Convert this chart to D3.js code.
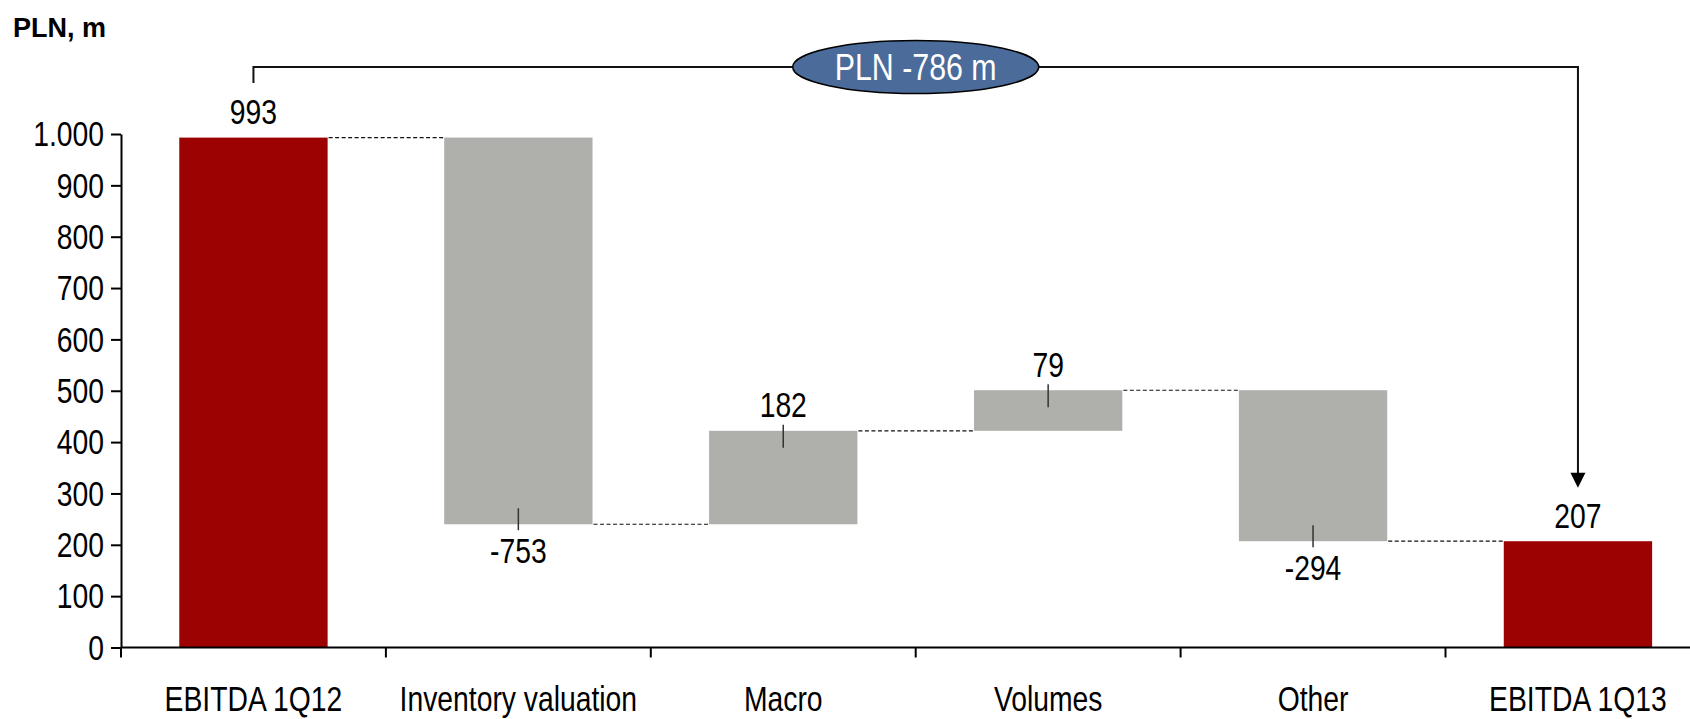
<!DOCTYPE html>
<html>
<head>
<meta charset="utf-8">
<script src="https://cdn.jsdelivr.net/npm/d3@7"></script>
<style>
  html, body { margin: 0; padding: 0; background: #fff; }
  svg { display: block; }
</style>
</head>
<body>
<svg id="chart" width="1690" height="719"></svg>
<script>
// ---- data ----
const categories = ["EBITDA 1Q12", "Inventory valuation", "Macro", "Volumes", "Other", "EBITDA 1Q13"];
const values = [993, -753, 182, 79, -294, 207];
const barTypes = ["total", "delta", "delta", "delta", "delta", "total"];
const yTicks = [0, 100, 200, 300, 400, 500, 600, 700, 800, 900, 1000];
const unitLabel = "PLN, m";
const changeLabel = "PLN -786 m";

// ---- style ----
const RED = "#9c0202", GRAY = "#afb0ab", BLUE = "#4b6b9a";

function hasFont(name) {
  const c = document.createElement("canvas").getContext("2d");
  c.font = "40px monospace";
  const a = c.measureText("EBITDA 1Q12 Inventory valuation").width;
  c.font = "40px '" + name + "', monospace";
  const b = c.measureText("EBITDA 1Q12 Inventory valuation").width;
  return a !== b;
}
const narrowOK = hasFont("Liberation Sans Narrow");
const FONT = narrowOK ? "'Liberation Sans Narrow', 'Arial Narrow', sans-serif" : "'Liberation Sans', Arial, sans-serif";
function narrowify(sel) {
  if (narrowOK) return;
  sel.each(function () {
    const len = this.getComputedTextLength();
    d3.select(this).attr("textLength", len * 0.82).attr("lengthAdjust", "spacingAndGlyphs");
  });
}

const svg = d3.select("#chart");
const fs = 34.5;

// ---- compute waterfall ----
let running = 0;
const bars = categories.map((c, i) => {
  let start, end;
  if (barTypes[i] === "total") { start = 0; end = values[i]; }
  else { start = running; end = running + values[i]; }
  running = end;
  return { cat: c, value: values[i], type: barTypes[i], start, end };
});

// ---- scales ----
const x = d3.scaleBand().domain(categories).range([121, 1710.4]).paddingInner(0.44).paddingOuter(0.22);
const y = d3.scaleLinear().domain([0, 1000]).range([647.5, 134]);
const bw = x.bandwidth();

// ---- y axis ----
const fmt = d3.formatLocale({ decimal: ",", thousands: ".", grouping: [3], currency: ["", ""] }).format(",d");
const gy = svg.append("g").attr("transform", "translate(121,0)")
  .call(d3.axisLeft(y).tickValues(yTicks).tickSize(10).tickSizeOuter(0).tickPadding(7).tickFormat(fmt));
gy.select(".domain").attr("stroke", "#000").attr("stroke-width", 2);
gy.selectAll(".tick line").attr("stroke", "#000").attr("stroke-width", 2);
gy.selectAll(".tick text").attr("font-family", FONT).attr("font-size", fs).attr("fill", "#000").attr("dy", "0.34em");
narrowify(gy.selectAll(".tick text"));

// ---- bars ----
svg.append("g").selectAll("rect").data(bars).join("rect")
  .attr("x", d => x(d.cat))
  .attr("width", bw)
  .attr("y", d => y(Math.max(d.start, d.end)))
  .attr("height", d => Math.abs(y(d.start) - y(d.end)))
  .attr("fill", d => d.type === "total" ? RED : GRAY);

// ---- connectors ----
const conn = bars.slice(0, -1).map((d, i) => ({ x1: x(d.cat) + bw, x2: x(bars[i + 1].cat), v: d.end }));
svg.append("g").selectAll("line").data(conn).join("line")
  .attr("x1", d => d.x1 + 1).attr("x2", d => d.x2)
  .attr("y1", d => y(d.v)).attr("y2", d => y(d.v))
  .attr("stroke", "#111").attr("stroke-width", 1.2).attr("stroke-dasharray", "4,2.5");

// ---- x axis ----
const gx = svg.append("g").attr("transform", "translate(0,647.5)");
gx.append("line").attr("x1", 121).attr("x2", 1690).attr("stroke", "#000").attr("stroke-width", 2);
const bounds = categories.map(c => x(c) - x.step() * x.paddingInner() / 2);
gx.selectAll(".bt").data(bounds).join("line").attr("class", "bt")
  .attr("x1", d => d).attr("x2", d => d).attr("y1", 0).attr("y2", 10)
  .attr("stroke", "#000").attr("stroke-width", 2);
const xl = gx.selectAll(".xl").data(categories).join("text").attr("class", "xl")
  .attr("x", d => x(d) + bw / 2).attr("y", 63.5)
  .attr("text-anchor", "middle").attr("font-family", FONT).attr("font-size", fs).attr("fill", "#000")
  .text(d => d);
narrowify(xl);

// ---- data labels ----
const labelBase = d => d.value >= 0 ? y(d.end) - 13.5 : y(d.end) + 39;
const dl = svg.append("g").selectAll("text").data(bars).join("text")
  .attr("x", d => x(d.cat) + bw / 2).attr("y", labelBase)
  .attr("text-anchor", "middle").attr("font-family", FONT).attr("font-size", fs).attr("fill", "#000")
  .text(d => d.value);
narrowify(dl);
svg.append("g").selectAll("line").data(bars.filter(d => d.type === "delta")).join("line")
  .attr("x1", d => x(d.cat) + bw / 2).attr("x2", d => x(d.cat) + bw / 2)
  .attr("y1", d => d.value >= 0 ? y(d.end) - 6 : y(d.end) + 6)
  .attr("y2", d => d.value >= 0 ? y(d.end) + 17 : y(d.end) - 16)
  .attr("stroke", "#333").attr("stroke-width", 1.5);

// ---- bracket annotation ----
const first = bars[0], last = bars[bars.length - 1];
const bx1 = x(first.cat) + bw / 2, bx2 = x(last.cat) + bw / 2;
const by = 67;
const yEnd1 = labelBase(first) - 41, yTip = labelBase(last) - 40;
svg.append("path")
  .attr("d", `M${bx1},${yEnd1}V${by}H${bx2}V${yTip - 14}`)
  .attr("fill", "none").attr("stroke", "#111").attr("stroke-width", 2);
svg.append("path")
  .attr("d", `M${bx2 - 7.5},${yTip - 15}L${bx2 + 7.5},${yTip - 15}L${bx2},${yTip}Z`)
  .attr("fill", "#000");
const cx = (bx1 + bx2) / 2;
svg.append("ellipse").attr("cx", cx).attr("cy", by).attr("rx", 123).attr("ry", 26.5)
  .attr("fill", BLUE).attr("stroke", "#000").attr("stroke-width", 1.5);
const ct = svg.append("text").attr("x", cx).attr("y", by + 12.5).attr("text-anchor", "middle")
  .attr("font-family", FONT).attr("font-size", 37).attr("fill", "#fff").text(changeLabel);
narrowify(ct);

// ---- unit label ----
svg.append("text").attr("x", 13).attr("y", 37)
  .attr("font-family", "'Liberation Sans', Arial, sans-serif").attr("font-weight", "bold")
  .attr("font-size", 27).attr("fill", "#000").text(unitLabel);
</script>
</body>
</html>
